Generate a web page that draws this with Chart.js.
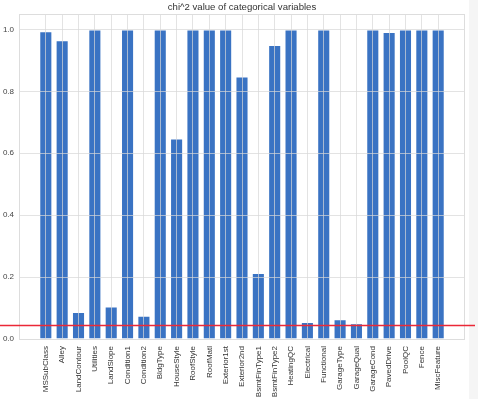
<!DOCTYPE html>
<html><head><meta charset="utf-8">
<script src="https://cdn.jsdelivr.net/npm/chart.js@4"></script>
<style>html,body{margin:0;padding:0;background:#fff;overflow:hidden}#wrap{width:478px;height:399px;position:relative}</style>
</head><body><div id="wrap"><canvas id="c" width="478" height="399"></canvas></div>
<script>
const categories = ['MSSubClass','Alley','LandContour','Utilities','LandSlope','Condition1','Condition2','BldgType','HouseStyle','RoofStyle','RoofMatl','Exterior1st','Exterior2nd','BsmtFinType1','BsmtFinType2','HeatingQC','Electrical','Functional','GarageType','GarageQual','GarageCond','PavedDrive','PoolQC','Fence','MiscFeature'];
const chiValues = [0.994,0.965,0.087,1.0,0.105,1.0,0.075,1.0,0.648,1.0,1.0,1.0,0.848,0.213,0.95,1.0,0.055,1.0,0.064,0.051,1.0,0.992,1.0,1.0,1.0];
const yTicks = [0,0.2,0.4,0.6,0.8,1.0];
const threshold = 0.044;
const titleText = 'chi^2 value of categorical variables';

const FONT = 'Liberation Sans, Arial, Helvetica, sans-serif';
const gridColor = 'rgba(215,215,215,0.7)';

const decor = {
  id: 'decor',
  beforeDraw(chart) {
    const ctx = chart.ctx;
    ctx.save();
    ctx.fillStyle = '#ffffff';
    ctx.fillRect(0, 0, chart.width, chart.height);
    ctx.fillStyle = '#f5f5f5';
    ctx.fillRect(469, 0, chart.width - 469, chart.height);
    ctx.restore();
  },
  afterDraw(chart) {
    const ctx = chart.ctx, a = chart.chartArea;
    const ys = chart.scales.y;
    ctx.save();
    ctx.strokeStyle = '#dddddd';
    ctx.lineWidth = 1;
    ctx.strokeRect(Math.round(a.left) + 0.5, Math.round(a.top) + 0.5, Math.round(a.right - a.left) - 1, Math.round(a.bottom - a.top));
    const yy = ys.getPixelForValue(threshold);
    ctx.strokeStyle = 'rgb(235,40,55)';
    ctx.lineWidth = 1.5;
    ctx.beginPath();
    ctx.moveTo(0, yy);
    ctx.lineTo(475, yy);
    ctx.stroke();
    ctx.fillStyle = '#333333';
    ctx.font = '9.6px ' + FONT;
    ctx.textAlign = 'center';
    ctx.textBaseline = 'middle';
    ctx.fillText(titleText, (a.left + a.right) / 2, 7);
    ctx.restore();
  }
};

new Chart(document.getElementById('c'), {
  type: 'bar',
  data: {
    datasets: [{
      data: categories.map((c, i) => ({x: i, y: chiValues[i]})),
      backgroundColor: '#3a73c3',
      borderColor: 'rgba(255,255,255,0.45)',
      borderWidth: 1,
      barPercentage: 0.8,
      categoryPercentage: 1.0
    }]
  },
  options: {
    responsive: false,
    animation: false,
    devicePixelRatio: 1,
    layout: {padding: {left: 0, right: 13, top: 14, bottom: 0}},
    plugins: {legend: {display: false}, title: {display: false}, tooltip: {enabled: false}},
    scales: {
      x: {
        type: 'linear',
        offset: false,
        min: -1.64,
        max: categories.length - 1 + 1.64,
        bounds: 'data',
        afterBuildTicks: (s) => { s.ticks = categories.map((c, i) => ({value: i})); },
        afterFit: (s) => { s.height = 60; },
        grid: {color: gridColor, lineWidth: 1, drawTicks: false, offset: false, z: 1},
        border: {display: false},
        ticks: {
          stepSize: 1, includeBounds: false, autoSkip: false, maxTicksLimit: 100,
          maxRotation: 90, minRotation: 90, padding: 7,
          color: '#333333', font: {size: 8, family: FONT},
          callback: (v) => categories[v] !== undefined ? categories[v] : ''
        }
      },
      y: {
        min: 0,
        max: 1.05,
        bounds: 'data',
        afterBuildTicks: (s) => { s.ticks = yTicks.map(v => ({value: v})); },
        afterFit: (s) => { s.width = 19; },
        grid: {color: gridColor, lineWidth: 1, drawTicks: false, z: 1},
        border: {display: false},
        ticks: {
          stepSize: 0.2, includeBounds: false, padding: 5,
          color: '#444444', font: {size: 8, family: FONT},
          callback: (v) => Number(v).toFixed(1)
        }
      }
    }
  },
  plugins: [decor]
});
</script></body></html>
